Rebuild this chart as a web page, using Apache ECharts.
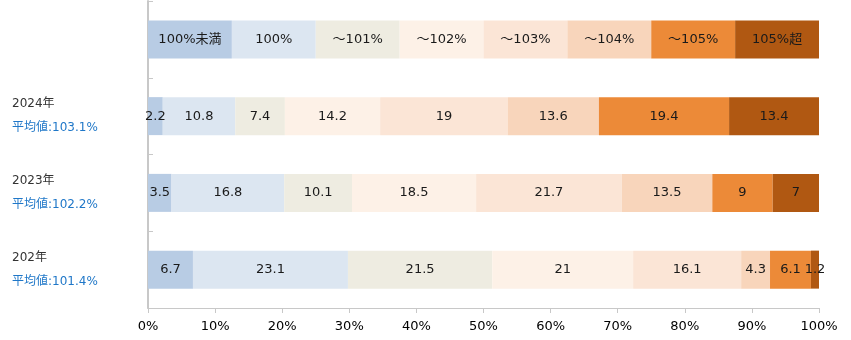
<!DOCTYPE html>
<html><head><meta charset="utf-8">
<script src="https://cdn.jsdelivr.net/npm/echarts@6/dist/echarts.min.js"></script>
<style>html,body{margin:0;padding:0;background:#fff}#c{width:851px;height:340px}</style>
</head><body><div id="c"></div>
<script>
const seriesNames = ['100%未満','100%','～101%','～102%','～103%','～104%','～105%','105%超'];
const colors = ['#B8CCE4','#DCE6F1','#EEECE1','#FDF1E7','#FBE5D6','#F8D5BB','#EC8A38','#B05812'];
const years = ['', '2024年', '2023年', '202年'];
const averages = ['', '平均値:103.1%', '平均値:102.2%', '平均値:101.4%'];
const legendRow = [12.5,12.5,12.5,12.5,12.5,12.5,12.5,12.5];
const v2024 = [2.2,10.8,7.4,14.2,19,13.6,19.4,13.4];
const v2023 = [3.5,16.8,10.1,18.5,21.7,13.5,9,7];
const v202 = [6.7,23.1,21.5,21,16.1,4.3,6.1,1.2];
const xTicks = [0,10,20,30,40,50,60,70,80,90,100];

const rows = [legendRow, v2024, v2023, v202];
const font = '"DejaVu Sans", "Noto Sans CJK JP", sans-serif';
const chart = echarts.init(document.getElementById('c'));
chart.setOption({
  animation: false,
  grid: {left: 148, right: 32, top: 1, bottom: 32},
  xAxis: {
    type: 'value', min: xTicks[0], max: xTicks[xTicks.length-1], interval: 10,
    splitLine: {show: false},
    axisLine: {show: true, lineStyle: {color: '#C8C8C8'}},
    axisTick: {show: true, length: 5, lineStyle: {color: '#C8C8C8'}},
    axisLabel: {formatter: '{value}%', color: '#000', fontSize: 13, fontFamily: font, margin: 12}
  },
  yAxis: {
    type: 'category', data: years, inverse: true,
    axisLine: {show: true, lineStyle: {color: '#C8C8C8', width: 2}},
    axisTick: {show: true, inside: true, length: 5, lineStyle: {color: '#C8C8C8'}},
    axisLabel: {
      align: 'left', margin: 136, fontFamily: font,
      formatter: function (v, i) {
        if (!v) return '';
        return '{y|' + v + '}\n{a|' + averages[i] + '}';
      },
      rich: {
        y: {color: '#333', fontSize: 12, lineHeight: 24, fontFamily: font},
        a: {color: '#1F77C8', fontSize: 12, lineHeight: 24, fontFamily: font}
      }
    }
  },
  series: seriesNames.map(function (name, s) {
    return {
      name: name, type: 'bar', stack: 'all', barWidth: 38,
      itemStyle: {color: colors[s]},
      label: {
        show: true, position: 'inside', color: '#1a1a1a', fontSize: 13, fontFamily: font,
        formatter: function (p) { return p.dataIndex === 0 ? p.seriesName : String(p.value); }
      },
      data: rows.map(function (r) { return r[s]; })
    };
  })
});
</script></body></html>
